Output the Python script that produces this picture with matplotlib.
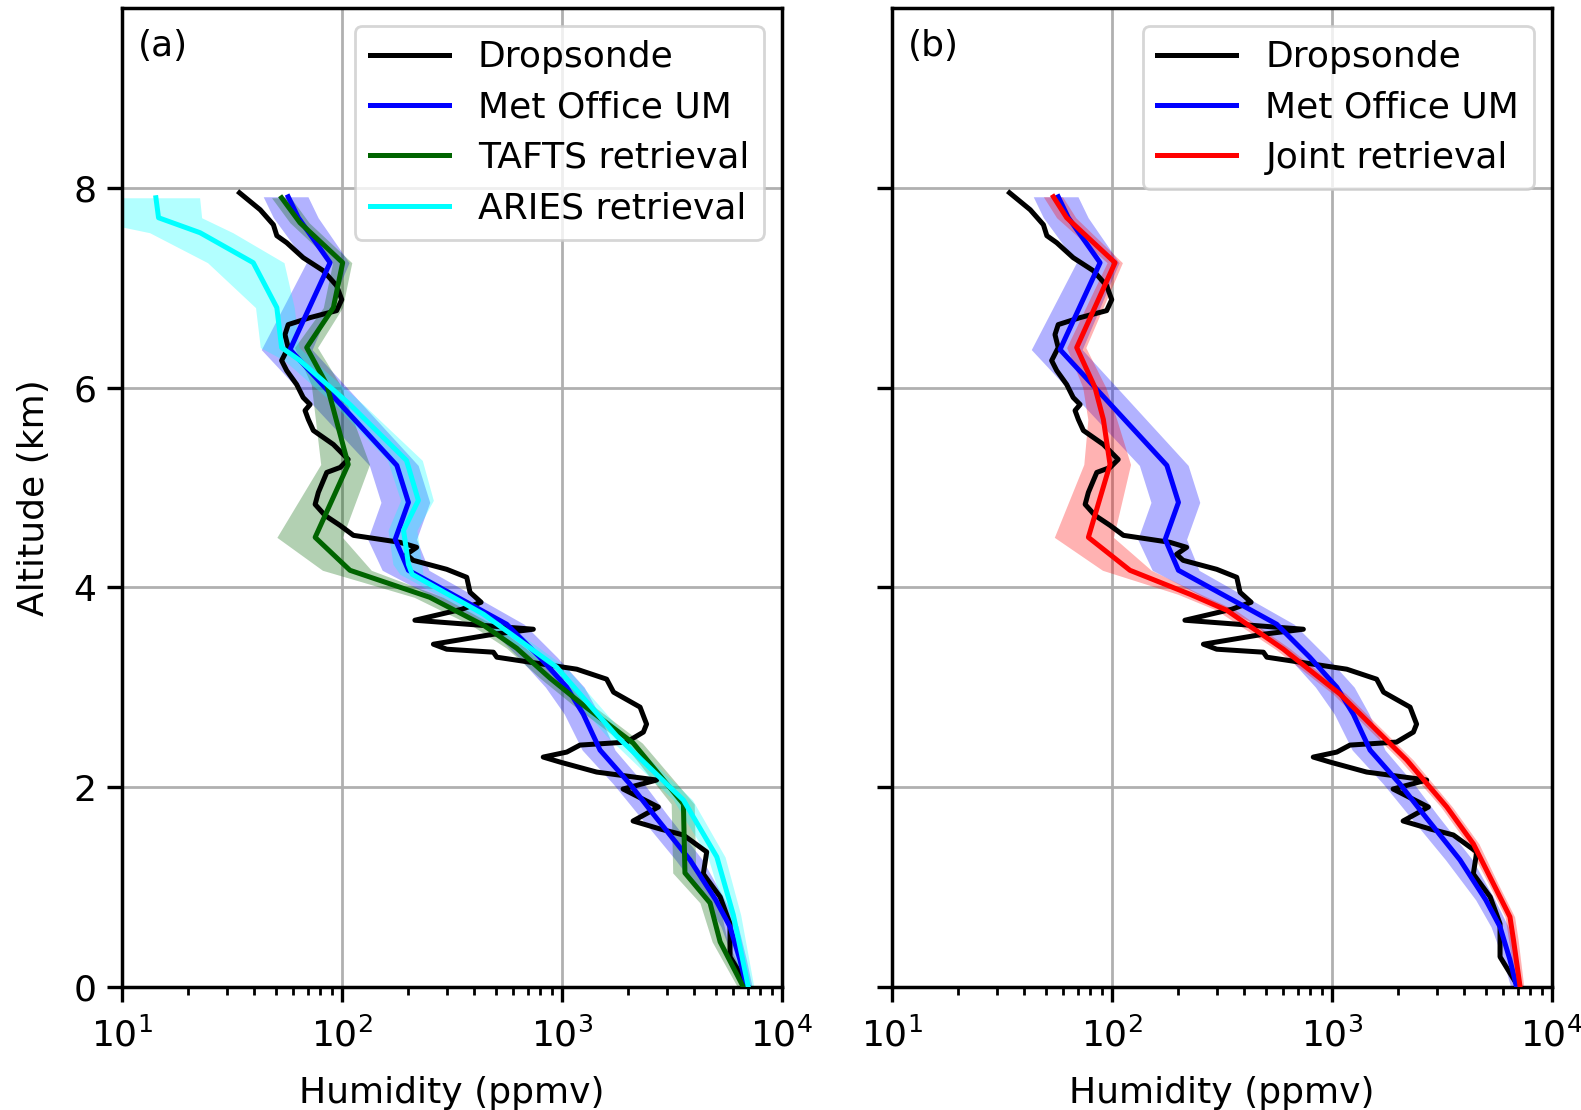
"""
Humidity profiles: dropsonde vs. Met Office UM vs. retrievals.
"""

import numpy as np
import matplotlib
matplotlib.use("Agg")
import matplotlib.pyplot as plt


# dropsonde profile (km, ppmv)
sonde_alt = [7.95, 7.78, 7.63, 7.52, 7.45, 7.30, 7.17, 7.02, 6.88, 6.77, 6.70, 6.63,
             6.53, 6.40, 6.27, 6.17, 6.03, 5.90, 5.83, 5.77, 5.68, 5.57, 5.43, 5.28,
             5.20, 5.15, 5.03, 4.95, 4.83, 4.72, 4.62, 4.52, 4.45, 4.40, 4.33, 4.27,
             4.18, 4.10, 3.95, 3.85, 3.78, 3.67, 3.58, 3.53, 3.43, 3.38, 3.35, 3.30,
             3.25, 3.18, 3.08, 2.95, 2.80, 2.63, 2.55, 2.45, 2.42, 2.35, 2.30, 2.25,
             2.15, 2.07, 1.98, 1.80, 1.66, 1.58, 1.52, 1.35, 1.13, 0.90, 0.63, 0.30, 0.00]
sonde_q = [34.3, 42.6, 48.9, 50.7, 56.2, 66.8, 82.4, 94.8, 100, 94.8, 71.8, 57.1,
           55.2, 57.1, 53.3, 56.2, 62.4, 66.8, 71.8, 68.1, 70.5, 74.3, 91.6, 107,
           98.4, 85.5, 81.1, 78.3, 75.7, 83.9, 98.2, 113, 184, 219, 197, 211,
           300, 370, 383, 430, 351, 215, 743, 489, 261, 300, 489, 507,
           718, 1170, 1600, 1720, 2270, 2430, 2350, 1970, 1210, 1054, 824, 982,
           1440, 2700, 1900, 2750, 2110, 2800, 3570, 4560, 4400, 5250, 5820, 5820, 7050]

# Met Office UM
um_alt = [7.91, 7.70, 7.25, 6.38, 5.22, 4.85, 4.48, 4.17, 3.63, 3.30, 3.00, 2.73,
          2.37, 2.03, 1.73, 1.27, 0.87, 0.60, 0.27, 0.00]
um_q = [57.1, 63.5, 88.5, 58.2, 178, 201, 175, 201, 562, 794, 1054, 1253,
        1493, 2042, 2606, 3828, 5012, 5821, 6457, 6918]
um_err = [0.23, 0.23, 0.22, 0.26, 0.25, 0.25, 0.25, 0.24, 0.20, 0.20, 0.20, 0.18,
          0.17, 0.16, 0.15, 0.14, 0.10, 0.09, 0.07, 0.06]

# TAFTS retrieval
tafts_alt = [7.90, 7.65, 7.25, 6.80, 6.40, 6.03, 5.23, 4.50, 4.17, 3.90, 3.62, 3.39,
             3.09, 2.82, 2.44, 1.83, 1.14, 0.84, 0.45, 0.00]
tafts_q = [53.3, 64.6, 101, 91.6, 69.3, 85.5, 107, 75.7, 109, 251, 441, 624,
           885, 1253, 2113, 3573, 3631, 4721, 5248, 6683]
tafts_err = [0.10, 0.10, 0.10, 0.10, 0.12, 0.15, 0.25, 0.33, 0.25, 0.15, 0.12, 0.10,
             0.10, 0.10, 0.10, 0.12, 0.12, 0.10, 0.08, 0.06]

# ARIES retrieval
aries_alt = [7.90, 7.70, 7.55, 7.25, 6.80, 6.40, 6.27, 5.83, 5.27, 4.87, 4.57, 4.23,
             4.13, 3.73, 3.20, 2.51, 1.87, 1.30, 0.72, 0.00]
aries_q = [14.3, 14.7, 22.7, 39.6, 50.7, 53.3, 64.6, 109, 197, 223, 191, 201,
           209, 441, 948, 1778, 3573, 5070, 6026, 7047]
aries_err = [0.58, 0.57, 0.41, 0.38, 0.20, 0.20, 0.15, 0.15, 0.18, 0.17, 0.15, 0.15,
             0.12, 0.10, 0.10, 0.10, 0.10, 0.09, 0.08, 0.06]

# joint retrieval
joint_alt = [7.91, 7.70, 7.25, 6.40, 6.00, 5.68, 5.23, 4.50, 4.17, 3.93, 3.77, 3.38,
             2.93, 2.50, 2.27, 1.80, 1.43, 1.03, 0.70, 0.47, 0.00]
joint_q = [54.3, 62.4, 103.5, 69.3, 83.9, 91.6, 98.2, 78.3, 121, 227, 333, 603,
           1091, 1718, 2193, 3334, 4406, 5433, 6457, 6699, 7178]
joint_err = [0.10, 0.10, 0.08, 0.10, 0.12, 0.15, 0.24, 0.30, 0.25, 0.12, 0.10, 0.08,
             0.07, 0.07, 0.07, 0.06, 0.06, 0.05, 0.05, 0.05, 0.04]


plt.rcParams["font.size"] = 13
LW = 1.8


def profile(ax, alt, q, err, color, label):
	q = np.array(q)
	err = np.array(err)
	ax.fill_betweenx(alt, q * (1 - err), q * (1 + err), color=color, alpha=0.3, lw=0, zorder=1)
	ax.plot(q, alt, color=color, lw=LW, label=label, zorder=3)


def style_axes(ax, tag):
	ax.set_xscale("log")
	ax.set_xlim(10, 1e4)
	ax.set_ylim(0, 9.8)
	ax.set_yticks([0, 2, 4, 6, 8])
	ax.grid(True, which="major", color="#b0b0b0", lw=1.0)
	ax.set_axisbelow(True)
	ax.set_xlabel("Humidity (ppmv)", labelpad=8)
	ax.tick_params(which="major", length=5.5, width=1.2)
	ax.tick_params(axis="x", which="major", pad=5.5)
	ax.tick_params(which="minor", length=3, width=1.0)
	for sp in ax.spines.values():
		sp.set_linewidth(1.25)
	ax.text(0.025, 0.961, tag, transform=ax.transAxes, va="center", ha="left")
	leg = ax.legend(loc="upper right", handlelength=2.2, labelspacing=0.45)
	for line in leg.get_lines():
		line.set_linewidth(LW)


fig, (ax1, ax2) = plt.subplots(1, 2, figsize=(7.905, 5.55), dpi=200, sharey=True)
fig.subplots_adjust(left=0.077, right=0.9815, bottom=0.111, top=0.9928, wspace=0.1667)

ax1.plot(sonde_q, sonde_alt, color="k", lw=LW, label="Dropsonde", zorder=3)
profile(ax1, um_alt, um_q, um_err, "blue", "Met Office UM")
profile(ax1, tafts_alt, tafts_q, tafts_err, "darkgreen", "TAFTS retrieval")
profile(ax1, aries_alt, aries_q, aries_err, "cyan", "ARIES retrieval")
ax1.set_ylabel("Altitude (km)", labelpad=8)
style_axes(ax1, "(a)")

ax2.plot(sonde_q, sonde_alt, color="k", lw=LW, label="Dropsonde", zorder=3)
profile(ax2, um_alt, um_q, um_err, "blue", "Met Office UM")
profile(ax2, joint_alt, joint_q, joint_err, "red", "Joint retrieval")
style_axes(ax2, "(b)")
ax2.tick_params(labelleft=False)

fig.savefig("out.png", dpi=200)
